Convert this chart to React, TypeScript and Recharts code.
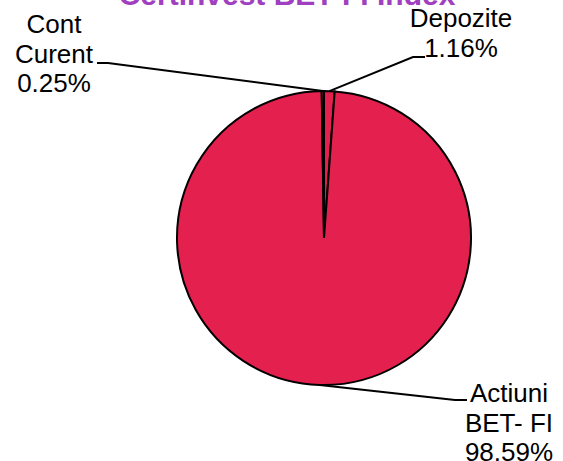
import React from "react";
import { PieChart, Pie, Cell } from "recharts";

// clockwise from 12 o'clock
const categories = ["Depozite", "Actiuni\nBET- FI", "Cont\nCurent"];
const shares = [1.16, 98.59, 0.25];

const data = categories.map((name, i) => ({ name, value: shares[i] }));

// leader line elbows / text spots, relative to the pie centre
const labelLayout = [
  { ex: 89, ey: -181, tx: 101, textX: 137, textY: -211 },
  { ex: 131, ey: 162, tx: 143, textX: 185, textY: 164 },
  { ex: -216, ey: -175, tx: -227, textX: -270, textY: -205 },
];

const RAD = Math.PI / 180;

const renderLabel = (props: any) => {
  const { cx, cy, midAngle, outerRadius, index, payload } = props;
  const l = labelLayout[index];
  const sx = cx + outerRadius * Math.cos(-midAngle * RAD);
  const sy = cy + outerRadius * Math.sin(-midAngle * RAD);
  const lines = String(payload.name).split("\n");
  lines.push(payload.value.toFixed(2) + "%");
  return (
    <g>
      <polyline
        points={`${sx},${sy} ${cx + l.ex},${cy + l.ey} ${cx + l.tx},${cy + l.ey}`}
        fill="none"
        stroke="#000"
        strokeWidth={2}
      />
      <text
        x={cx + l.textX}
        y={cy + l.textY}
        textAnchor="middle"
        fontFamily="Liberation Sans, Arial, sans-serif"
        fontSize={26}
        fill="#000"
      >
        {lines.map((t, i) => (
          <tspan key={i} x={cx + l.textX} dy={i === 0 ? 0 : 29.5}>
            {t}
          </tspan>
        ))}
      </text>
    </g>
  );
};

const App: React.FC = () => {
  return (
    <div
      style={{
        position: "absolute",
        left: 0,
        top: 0,
        width: 563,
        height: 461,
        overflow: "hidden",
        background: "#fff",
      }}
    >
      <div
        style={{
          position: "absolute",
          top: -20,
          left: 0,
          width: 574,
          textAlign: "center",
          fontFamily: "Liberation Sans, Arial, sans-serif",
          fontWeight: "bold",
          fontSize: 30,
          lineHeight: "30px",
          whiteSpace: "nowrap",
          color: "#A040C0",
        }}
      >
        Certinvest BET-FI Index
      </div>
      <PieChart
        width={563}
        height={461}
        margin={{ top: 0, right: 0, bottom: 0, left: 0 }}
        style={{ position: "absolute", top: 0, left: 0 }}
      >
        <Pie
          data={data}
          dataKey="value"
          nameKey="name"
          cx={324}
          cy={238}
          outerRadius={147}
          startAngle={90}
          endAngle={-270}
          stroke="#000"
          strokeWidth={2}
          label={renderLabel}
          labelLine={false}
          isAnimationActive={false}
        >
          {data.map((d) => (
            <Cell key={d.name} fill="#E4204F" />
          ))}
        </Pie>
      </PieChart>
    </div>
  );
};

export default App;
